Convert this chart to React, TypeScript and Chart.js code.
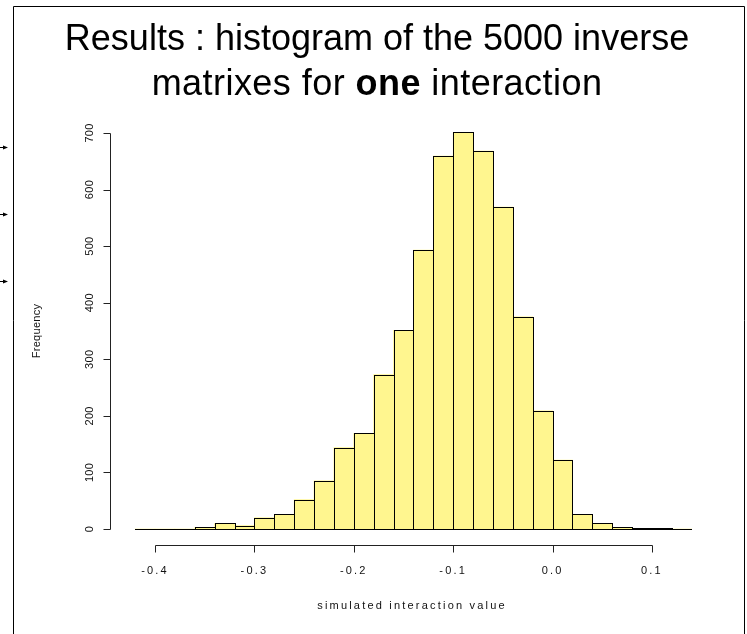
import React, { useEffect, useRef } from "react";
import { Chart, registerables } from "chart.js";

Chart.register(...registerables);

// ---------- data ----------
const TITLE_LINE_1 = "Results : histogram of the 5000 inverse";
const TITLE_LINE_2 = [
  { text: "matrixes for ", bold: false },
  { text: "one", bold: true },
  { text: " interaction", bold: false },
];
const X_LABEL = "simulated interaction value";
const Y_LABEL = "Frequency";

const BIN_WIDTH = 0.02;
const BIN_STARTS = [
  -0.42, -0.4, -0.38, -0.36, -0.34, -0.32, -0.3, -0.28, -0.26, -0.24, -0.22, -0.2, -0.18, -0.16,
  -0.14, -0.12, -0.1, -0.08, -0.06, -0.04, -0.02, 0.0, 0.02, 0.04, 0.06, 0.08, 0.1, 0.12,
];
const COUNTS = [
  0, 0, 0, 3, 10, 6, 20, 26, 52, 85, 144, 169, 273, 351,
  493, 659, 701, 668, 569, 375, 209, 122, 26, 10, 3, 1, 1, 0,
];
const X_TICKS = [-0.4, -0.3, -0.2, -0.1, 0.0, 0.1];
const Y_TICKS = [0, 100, 200, 300, 400, 500, 600, 700];

const X_MIN = -0.4453;
const X_MAX = 0.1624;
const Y_MIN = -30;
const Y_MAX = 730;

const FONT = '"Liberation Sans", Arial, Helvetica, sans-serif';
const BAR_FILL = "#FFF68F";

const W = 747;
const H = 634;

const decorPlugin = {
  id: "rDecor",
  beforeDraw(chart: any) {
    (chart.ctx as any).letterSpacing = "2.2px";
  },
  afterDatasetsDraw(chart: any) {
    const ctx = chart.ctx;
    const xs = chart.scales.x;
    const ys = chart.scales.y;
    ctx.save();
    ctx.strokeStyle = "#000";
    ctx.lineWidth = 1;
    // baseline over all bins (zero-count bins appear as flat lines)
    const y0 = Math.round(ys.getPixelForValue(0)) + 0.5;
    const last = BIN_STARTS.length - 1;
    ctx.beginPath();
    ctx.moveTo(Math.round(xs.getPixelForValue(BIN_STARTS[0])), y0);
    ctx.lineTo(Math.round(xs.getPixelForValue(BIN_STARTS[last] + BIN_WIDTH)), y0);
    ctx.stroke();
    // bar outlines
    const meta = chart.getDatasetMeta(0);
    meta.data.forEach((el: any, i: number) => {
      if (COUNTS[i] <= 0) return;
      const p = el.getProps(["x", "y", "base", "width"], true);
      const L = Math.round(p.x - p.width / 2) + 0.5;
      const R = Math.round(p.x + p.width / 2) + 0.5;
      const T = Math.round(p.y) + 0.5;
      const B = Math.round(p.base) + 0.5;
      ctx.strokeRect(L, T, R - L, B - T);
    });
    ctx.restore();
    (ctx as any).letterSpacing = "0.3px";
  },
  afterDraw(chart: any) {
    const ctx = chart.ctx;
    (ctx as any).letterSpacing = "0px";
    const xs = chart.scales.x;
    const ys = chart.scales.y;
    const area = chart.chartArea;
    ctx.save();
    ctx.strokeStyle = "#222";
    ctx.lineWidth = 1;
    // y axis (R style: spans first..last tick, ticks outward)
    const ax = Math.round(area.left) + 0.5;
    ctx.beginPath();
    ctx.moveTo(ax, Math.round(ys.getPixelForValue(Y_TICKS[0])) + 0.5);
    ctx.lineTo(ax, Math.round(ys.getPixelForValue(Y_TICKS[Y_TICKS.length - 1])) + 0.5);
    Y_TICKS.forEach((v) => {
      const py = Math.round(ys.getPixelForValue(v)) + 0.5;
      ctx.moveTo(ax, py);
      ctx.lineTo(ax - 7, py);
    });
    ctx.stroke();
    // x axis
    const ay = Math.round(area.bottom) - 0.5;
    ctx.beginPath();
    ctx.moveTo(Math.round(xs.getPixelForValue(X_TICKS[0])) + 0.5, ay);
    ctx.lineTo(Math.round(xs.getPixelForValue(X_TICKS[X_TICKS.length - 1])) + 0.5, ay);
    X_TICKS.forEach((v) => {
      const px = Math.round(xs.getPixelForValue(v)) + 0.5;
      ctx.moveTo(px, ay);
      ctx.lineTo(px, ay + 7);
    });
    ctx.stroke();

    // slide frame
    ctx.strokeStyle = "#000";
    ctx.beginPath();
    ctx.moveTo(13.5, H);
    ctx.lineTo(13.5, 6.5);
    ctx.lineTo(744.5, 6.5);
    ctx.lineTo(744.5, H);
    ctx.stroke();

    // small arrows at left edge
    ctx.fillStyle = "#000";
    [147, 214, 281].forEach((yy) => {
      ctx.beginPath();
      ctx.moveTo(0, yy + 0.5);
      ctx.lineTo(4, yy + 0.5);
      ctx.stroke();
      ctx.beginPath();
      ctx.moveTo(3, yy - 1.5);
      ctx.lineTo(8, yy + 0.5);
      ctx.lineTo(3, yy + 2.5);
      ctx.closePath();
      ctx.fill();
    });

    // title
    ctx.fillStyle = "#000";
    ctx.textBaseline = "alphabetic";
    ctx.textAlign = "center";
    ctx.font = `36px ${FONT}`;
    const cx = 377;
    ctx.fillText(TITLE_LINE_1, cx, 50);
    ctx.textAlign = "left";
    (ctx as any).letterSpacing = "0.45px";
    const widths = TITLE_LINE_2.map((s) => {
      ctx.font = `${s.bold ? "bold " : ""}36px ${FONT}`;
      return ctx.measureText(s.text).width;
    });
    const total = widths.reduce((a, b) => a + b, 0);
    let x = cx - total / 2;
    TITLE_LINE_2.forEach((s, i) => {
      ctx.font = `${s.bold ? "bold " : ""}36px ${FONT}`;
      ctx.fillText(s.text, x, 95);
      x += widths[i];
    });
    ctx.restore();
    (ctx as any).letterSpacing = "0px";
  },
};

export default function App() {
  const ref = useRef<HTMLCanvasElement>(null);
  useEffect(() => {
    if (!ref.current) return;
    Chart.defaults.font.family = FONT;
    const points = BIN_STARTS.map((s, i) => ({ x: s + BIN_WIDTH / 2, y: COUNTS[i] }));
    const chart = new Chart(ref.current, {
      type: "bar",
      data: {
        datasets: [
          {
            label: Y_LABEL,
            data: points,
            backgroundColor: BAR_FILL,
            borderWidth: 0,
            barPercentage: 1,
            categoryPercentage: 1,
          },
        ],
      },
      options: {
        responsive: false,
        animation: false,
        devicePixelRatio: 1,
        events: [],
        layout: { padding: { top: 116, right: 33, bottom: 0, left: 0 } },
        plugins: {
          legend: { display: false },
          tooltip: { enabled: false },
          title: { display: false },
        },
        scales: {
          x: {
            type: "linear",
            min: X_MIN,
            max: X_MAX,
            offset: false,
            grid: { display: false, drawTicks: false },
            border: { display: false },
            afterBuildTicks: (s: any) => {
              s.ticks = X_TICKS.map((v) => ({ value: v }));
            },
            afterFit: (s: any) => {
              s.height = H - 546;
            },
            ticks: {
              autoSkip: false,
              maxRotation: 0,
              minRotation: 0,
              padding: 18.4,
              color: "#111",
              font: { size: 11, family: FONT },
              callback: (v: any) => Number(v).toFixed(1),
            },
            title: {
              display: true,
              text: X_LABEL,
              color: "#111",
              font: { size: 11, family: FONT },
              padding: { top: 0, bottom: 21.4 },
            },
          },
          y: {
            type: "linear",
            min: Y_MIN,
            max: Y_MAX,
            grid: { display: false, drawTicks: false, z: 1 },
            border: { display: false },
            afterBuildTicks: (s: any) => {
              s.ticks = Y_TICKS.map((v) => ({ value: v }));
            },
            afterFit: (s: any) => {
              s.width = 110;
            },
            ticks: {
              z: 1,
              autoSkip: false,
              minRotation: 90,
              maxRotation: 90,
              crossAlign: "center",
              padding: 11.3,
              color: "#111",
              font: { size: 11, family: FONT },
              callback: (v: any) => String(v),
            },
            title: {
              display: true,
              text: Y_LABEL,
              color: "#111",
              font: { size: 11, family: FONT },
              padding: { top: 30.4, bottom: 0 },
            },
          },
        },
      },
      plugins: [decorPlugin],
    } as any);
    return () => chart.destroy();
  }, []);
  return (
    <div style={{ position: "fixed", left: 0, top: 0, width: W, height: H, background: "#fff" }}>
      <canvas ref={ref} width={W} height={H} style={{ display: "block", width: W, height: H }} />
    </div>
  );
}
